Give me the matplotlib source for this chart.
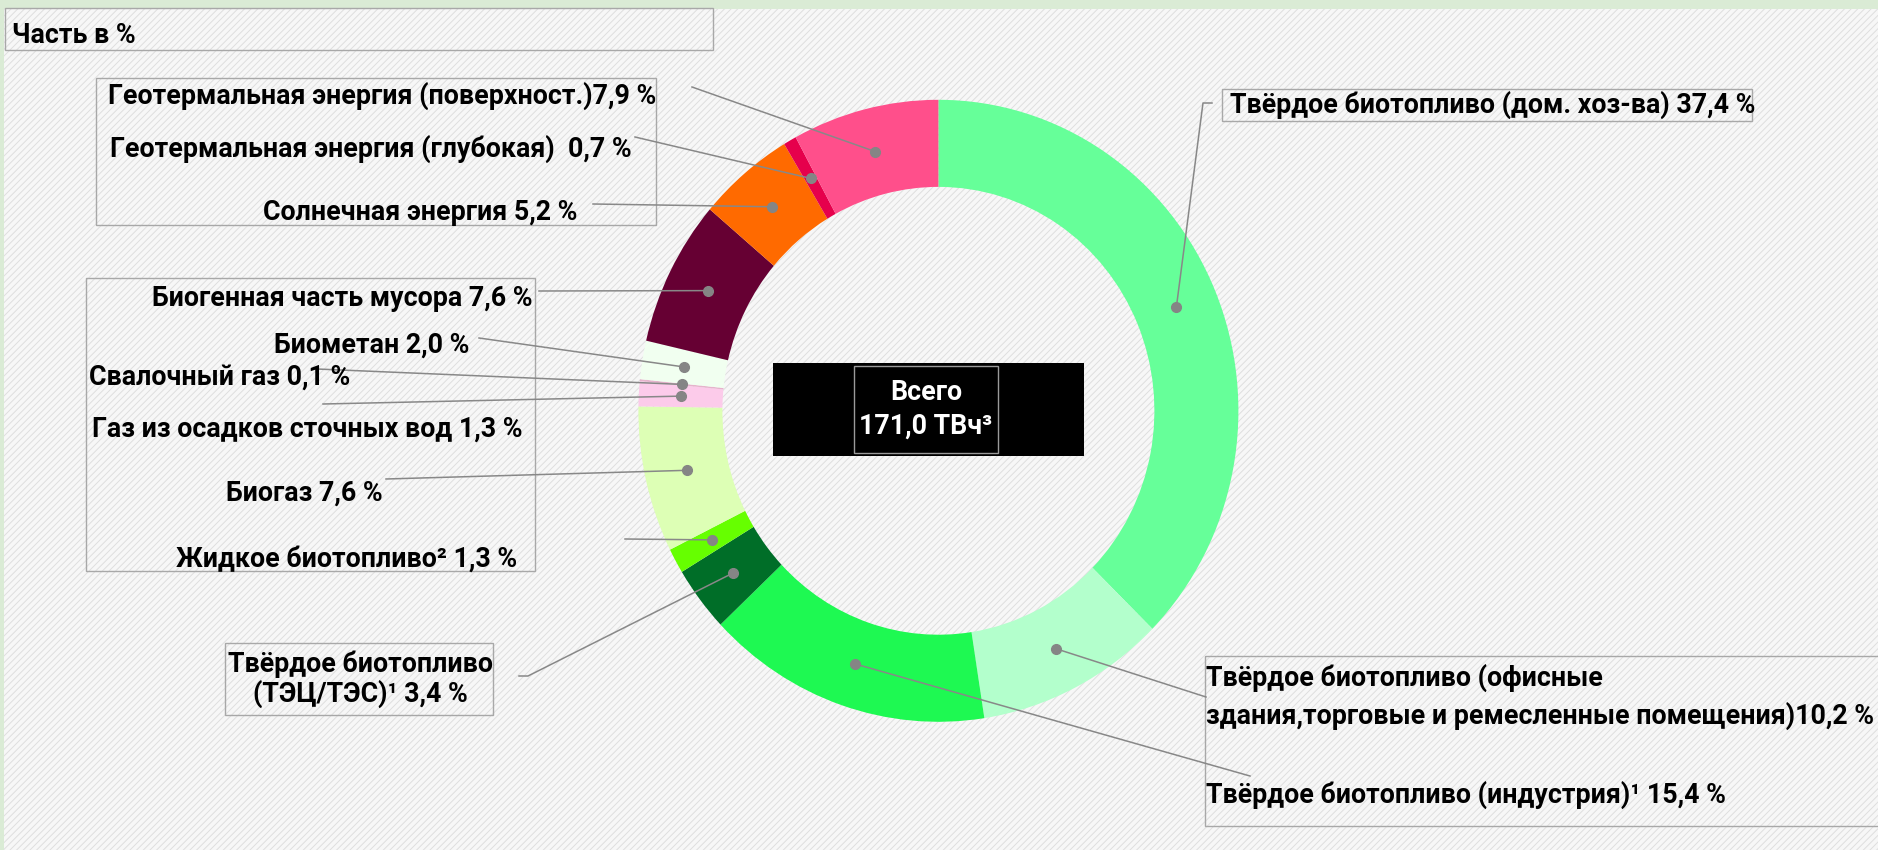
import matplotlib
matplotlib.use("Agg")
import matplotlib.pyplot as plt
from matplotlib.patches import Rectangle
import numpy as np

# ---------------- data ----------------
categories = [
    "Твёрдое биотопливо (дом. хоз-ва) ",
    "Твёрдое биотопливо (офисные\nздания,торговые и ремесленные помещения)",
    "Твёрдое биотопливо (индустрия)¹ ",
    "Твёрдое биотопливо\n(ТЭЦ/ТЭС)¹ ",
    "Жидкое биотопливо² ",
    "Биогаз ",
    "Газ из осадков сточных вод ",
    "Свалочный газ ",
    "Биометан ",
    "Биогенная часть мусора ",
    "Солнечная энергия ",
    "Геотермальная энергия (глубокая)  ",
    "Геотермальная энергия (поверхност.)",
]
values = [37.4, 10.2, 15.4, 3.4, 1.3, 7.6, 1.3, 0.1, 2.0, 7.6, 5.2, 0.7, 7.9]
colors = ["#66FF99", "#B3FFCC", "#1EF952", "#006E28", "#66FF00", "#DDFFB5",
          "#FCCBEA", "#E6B3CC", "#F1FFF0", "#660033", "#FF6A00", "#E6004C", "#FF4F8B"]
title_text = "Часть в %"
center_title = "Всего"
center_value = "171,0 ТВч³"

# ---------------- layout (pixel positions of labels) ----------------
W, H = 1878, 850
FONT = ["Roboto", "DejaVu Sans"]
FS = 19.3
label_pos = [
    (1230, 105, "left", "center"),
    (1206, 697, "left", "center"),
    (1206, 795, "left", "center"),
    (360, 679, "center", "center"),
    (517, 559, "right", "center"),
    (383, 493, "right", "center"),
    (522, 429, "right", "center"),
    (89, 377, "left", "center"),
    (469, 345, "right", "center"),
    (533, 298, "right", "center"),
    (577, 212, "right", "center"),
    (632, 149, "right", "center"),
    (656, 96, "right", "center"),
]
leader_start = [
    [(1212, 103), (1203, 103)],
    [(1206, 697)],
    [(1250, 776)],
    [(519, 676), (528, 676)],
    [(625, 539)],
    [(386, 479)],
    [(323, 404)],
    [(317, 369)],
    [(479, 338)],
    [(539, 291)],
    [(593, 204)],
    [(635, 137)],
    [(692, 87)],
]
linespacing = [1.2, 1.45, 1.2, 1.1] + [1.2] * 9

fig = plt.figure(figsize=(W / 100, H / 100), dpi=100)
fig.patch.set_facecolor("#DAEBD5")

# background with diagonal hatching
ax_bg = fig.add_axes([0, 0, 1, 1], zorder=0)
ax_bg.set_xlim(0, W)
ax_bg.set_ylim(H, 0)
ax_bg.axis("off")
plt.rcParams["hatch.linewidth"] = 0.7
plt.rcParams["hatch.color"] = "#DEDEDE"
ax_bg.add_patch(Rectangle((4, 9), W, H, facecolor="#F7F7F7", edgecolor="#DEDEDE",
                          hatch="/////", linewidth=0))

# donut
cx, cy, rx, ry = 938.4, 410.8, 300, 311
ax_d = fig.add_axes([(cx - rx) / W, 1 - (cy + ry) / H, 2 * rx / W, 2 * ry / H], zorder=1)
ring_w = 0.28
ax_d.pie(values, colors=colors, startangle=90, counterclock=False, radius=1,
         wedgeprops=dict(width=ring_w, linewidth=0))
ax_d.set_aspect("auto")
ax_d.set_xlim(-1, 1)
ax_d.set_ylim(-1, 1)
ax_d.axis("off")
ax_d.patch.set_alpha(0)

# overlay
ax = fig.add_axes([0, 0, 1, 1], zorder=2)
ax.set_xlim(0, W)
ax.set_ylim(H, 0)
ax.axis("off")
ax.patch.set_alpha(0)

box_col = "#A8A8A8"
def box(x0, y0, x1, y1, **kw):
    ax.add_patch(Rectangle((x0, y0), x1 - x0, y1 - y0, fill=False,
                           edgecolor=box_col, linewidth=1.0, **kw))

box(5, 8, 713, 50)
box(96, 78, 656, 225)
box(86, 278, 535, 571)
box(225, 643, 493, 715)
box(1222, 89, 1752, 121)
box(1205, 656, 1890, 826)

ax.text(12, 35, title_text, fontsize=FS, fontweight="bold", family=FONT,
        ha="left", va="center", color="black")

# center box
ax.add_patch(Rectangle((773, 363), 311, 93, facecolor="black", edgecolor="none"))
ax.add_patch(Rectangle((854, 366), 144, 87, fill=False, edgecolor="#9A9A9A", linewidth=1))
ax.text(926, 392, center_title, fontsize=FS, fontweight="bold", family=FONT,
        color="white", ha="center", va="center")
ax.text(926, 426, center_value, fontsize=FS, fontweight="bold", family=FONT,
        color="white", ha="center", va="center")

# labels, leader lines and dots
total = sum(values)
cum = 0.0
r_mid = 1 - ring_w / 2
to_overlay = ax.transData.inverted()
for i, (name, v) in enumerate(zip(categories, values)):
    ang = np.deg2rad(90 - 360 * (cum + v / 2) / total)
    cum += v
    p = ax_d.transData.transform((r_mid * np.cos(ang), r_mid * np.sin(ang)))
    dx, dy = to_overlay.transform(p)
    pts = leader_start[i] + [(dx, dy)]
    xs = [q[0] for q in pts]
    ys = [q[1] for q in pts]
    ax.plot(xs, ys, color="#888888", linewidth=1.1, zorder=3)
    ax.plot([dx], [dy], marker="o", markersize=7, color="#858585", zorder=4)
    lx, ly, ha, va = label_pos[i]
    txt = name + f"{v:.1f}".replace(".", ",") + " %"
    ax.text(lx, ly, txt, fontsize=FS, fontweight="bold", family=FONT, ha=ha, va=va,
            multialignment=ha, linespacing=linespacing[i],
            color="black", zorder=5)

fig.savefig("out.png", dpi=100, facecolor=fig.get_facecolor())
